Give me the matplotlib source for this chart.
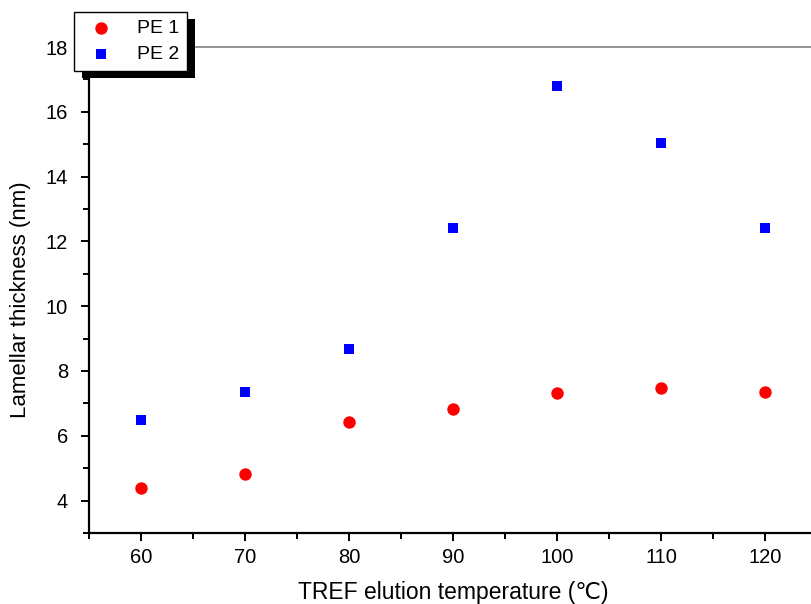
import matplotlib
matplotlib.use("Agg")
import matplotlib.pyplot as plt
from matplotlib.patches import Rectangle
from matplotlib.ticker import MultipleLocator

plt.rcParams['font.family'] = ['Liberation Sans', 'DejaVu Sans']

# data
temps = [60, 70, 80, 90, 100, 110, 120]
pe1 = [4.40, 4.83, 6.44, 6.84, 7.31, 7.49, 7.34]
pe2 = [6.50, 7.34, 8.67, 12.41, 16.79, 15.03, 12.41]
series_names = ['PE 1', 'PE 2']

W, H = 811, 604
fig = plt.figure(figsize=(W / 100, H / 100), dpi=100)
# axes runs a little past the right edge of the figure, like the original
ax = fig.add_axes([89 / W, 71 / H, 728 / W, 486 / H])

ax.scatter(temps, pe1, s=80, marker='o', color='#ff0000', linewidths=0, label=series_names[0], zorder=3)
ax.scatter(temps, pe2, s=50, marker='s', color='#0000ff', linewidths=0, label=series_names[1], zorder=3)

ax.set_xlim(55, 125)
ax.set_ylim(3, 18)
ax.xaxis.set_major_locator(MultipleLocator(10))
ax.xaxis.set_minor_locator(MultipleLocator(5))
ax.yaxis.set_major_locator(MultipleLocator(2))
ax.yaxis.set_minor_locator(MultipleLocator(1))

ax.spines['right'].set_visible(False)
ax.spines['top'].set_color('#808080')
ax.spines['top'].set_linewidth(1.2)
ax.spines['left'].set_linewidth(1.6)
ax.spines['bottom'].set_linewidth(1.6)

ax.tick_params(which='both', direction='out', top=False, right=False, width=1.4, labelsize=14.5)
ax.tick_params(which='major', length=6, pad=5)
ax.tick_params(which='minor', length=4)
ax.tick_params(axis='y', which='major', pad=9)

ax.set_xlabel('TREF elution temperature (℃)', fontsize=16.5, labelpad=10)
ax.set_ylabel('Lamellar thickness (nm)', fontsize=16)
ax.yaxis.set_label_coords(-0.079, 0.48)

leg = ax.legend(loc='upper left', bbox_to_anchor=(74 / W, 1 - 12 / H), bbox_transform=fig.transFigure,
                borderaxespad=0, fontsize=14, fancybox=False, framealpha=1, edgecolor='black',
                handletextpad=0.85, handlelength=2.0, borderpad=0.4, labelspacing=0.4)
leg.get_frame().set_linewidth(1.0)
leg.set_zorder(10)

# black drop shadow behind the legend box
fig.canvas.draw()
bb = leg.get_window_extent()
shadow = Rectangle((bb.x0 + 8, bb.y0 - 7), bb.width, bb.height, transform=None,
                   facecolor='black', edgecolor='none', zorder=9)
ax.add_artist(shadow)
shadow.set_clip_on(False)

fig.savefig('out.png', dpi=100)
